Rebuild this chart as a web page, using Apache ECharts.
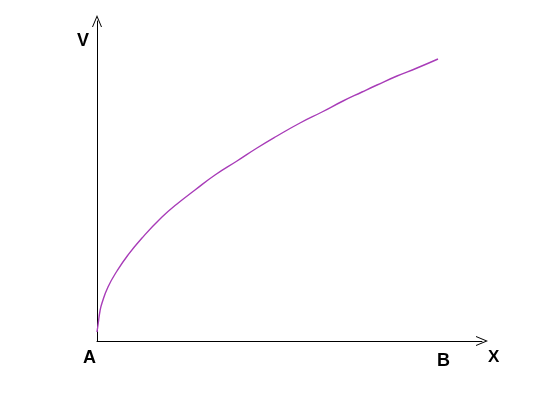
<!DOCTYPE html>
<html>
<head>
<meta charset="utf-8">
<script src="https://cdn.jsdelivr.net/npm/echarts@6/dist/echarts.min.js"></script>
<style>html,body{margin:0;padding:0;background:#fff;}#c{width:535px;height:400px;}</style>
</head>
<body>
<div id="c"></div>
<script>
// Curve readings (distance along X, value V) in axis units
const xs = [0, 1, 3, 5, 11, 20, 31, 45, 65, 80, 98, 118, 140, 160, 180, 203, 225, 246, 265, 280, 300, 320, 341];
const vs = [9, 16, 30, 38, 54, 70, 86, 103, 124, 137, 151, 166, 180, 193, 205, 218, 229, 240, 249, 256, 265, 273, 282];
const xMax = 385;
const yMax = 320;
const labelA = 'A';
const labelB = 'B';
const nameX = 'X';
const nameV = 'V';

const chart = echarts.init(document.getElementById('c'), null, {renderer: 'canvas'});
const arrow = 'path://M0,12 L5,0 L10,12 L9,12 L5,2.5 L1,12 Z';
const f = 'bold 18px "Liberation Sans"';
chart.setOption({
  backgroundColor: '#fff',
  animation: false,
  grid: {left: 97, right: 53, top: 21, bottom: 59},
  xAxis: {
    type: 'value', min: 0, max: xMax,
    axisLine: {show: true, symbol: ['none', arrow], symbolSize: [10, 12], lineStyle: {color: '#000', width: 1}},
    axisTick: {show: false}, axisLabel: {show: false}, splitLine: {show: false}
  },
  yAxis: {
    type: 'value', min: 0, max: yMax,
    axisLine: {show: true, symbol: ['none', arrow], symbolSize: [10, 12], lineStyle: {color: '#000', width: 1}},
    axisTick: {show: false}, axisLabel: {show: false}, splitLine: {show: false}
  },
  graphic: [
    {type: 'text', left: 77, top: 32, style: {text: nameV, font: f, fill: '#000'}},
    {type: 'text', left: 488, top: 349, style: {text: nameX, font: 'bold 17px "Liberation Sans"', fill: '#000'}},
    {type: 'text', left: 83, top: 349, style: {text: labelA, font: f, fill: '#000'}},
    {type: 'text', left: 437, top: 352, style: {text: labelB, font: f, fill: '#000'}}
  ],
  series: [{
    type: 'line', smooth: true, showSymbol: false,
    data: xs.map((x, i) => [x, vs[i]]),
    lineStyle: {color: '#a83cb8', width: 1.4},
    itemStyle: {color: '#a83cb8'}
  }]
});
</script>
</body>
</html>
